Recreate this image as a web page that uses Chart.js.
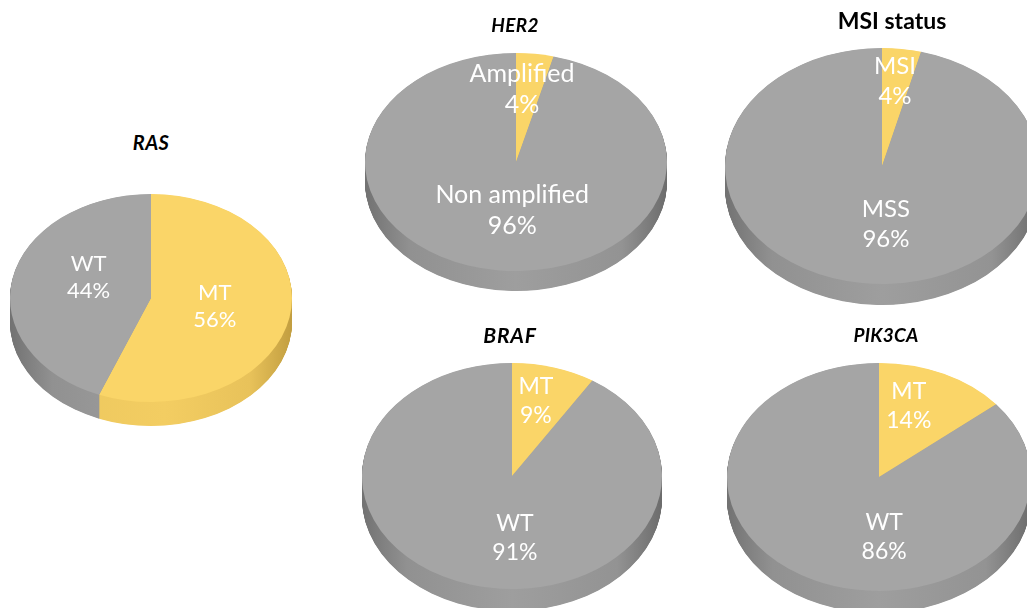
<!DOCTYPE html>
<html>
<head>
<meta charset="utf-8">
<script src="https://cdn.jsdelivr.net/npm/chart.js@4/dist/chart.umd.min.js"></script>
<style>
  html, body { margin:0; padding:0; background:#fff; width:1027px; height:608px; overflow:hidden; position:relative; }
  canvas { position:absolute; }
  .ttl { position:absolute; transform:translate(-50%,-50%); font-family:Lato, "Open Sans", sans-serif; font-weight:bold; color:#000; white-space:nowrap; }
</style>
</head>
<body>
<script>
// ---- data ----
const titles = ['RAS', 'HER2', 'MSI status', 'BRAF', 'PIK3CA'];
const rasLabels = ['MT', 'WT'];
const rasValues = [56, 44];
const her2Labels = ['Amplified', 'Non amplified'];
const her2Values = [4, 96];
const msiLabels = ['MSI', 'MSS'];
const msiValues = [4, 96];
const brafLabels = ['MT', 'WT'];
const brafValues = [9, 91];
const pik3caLabels = ['MT', 'WT'];
const pik3caValues = [14, 86];

const YELLOW = '#FAD568';
const GRAY = '#A5A5A5';

// ---- layout / style (not data) ----
// fx/fy: label placement factors along the slice's mid-angle direction (x and y separately)
const charts = [
  { title: titles[0], labels: rasLabels, values: rasValues, cx:151, cy:298, rx:141, ry:104, depth:24, font:22, fx:[0.46,0.45], fy:[0.43,1.05], italic:true,  tx:151, ty:142, tsize:20, ls:0.5 },
  { title: titles[1], labels: her2Labels, values: her2Values, cx:516, cy:162, rx:151, ry:109, depth:20, font:25, fx:[0.32,0.2], fy:[0.67,0.45], italic:true,  tx:515, ty:24,  tsize:19, ls:0.3 },
  { title: titles[2], labels: msiLabels, values: msiValues, cx:882, cy:166, rx:157, ry:118, depth:21, font:24, fx:[0.66,-0.2], fy:[0.72,0.5], italic:false, tx:892, ty:20,  tsize:23, ls:0 },
  { title: titles[3], labels: brafLabels, values: brafValues, cx:512, cy:476, rx:150, ry:113, depth:22, font:23, fx:[0.57,-0.07], fy:[0.69,0.57], italic:true,  tx:510, ty:334, tsize:21, ls:0.8 },
  { title: titles[4], labels: pik3caLabels, values: pik3caValues, cx:879, cy:477, rx:152, ry:114, depth:22, font:23, fx:[0.46,-0.08], fy:[0.69,0.58], italic:true,  tx:886, ty:334, tsize:19, ls:0.2 }
];

function sideGradient(ctx, cx, r, base) {
  const g = ctx.createLinearGradient(cx - r, 0, cx + r, 0);
  if (base === 'yellow') {
    g.addColorStop(0, '#D2AD4A');
    g.addColorStop(0.25, '#EEC95F');
    g.addColorStop(0.55, '#F3CD62');
    g.addColorStop(0.85, '#E8C25A');
    g.addColorStop(1, '#C29E40');
  } else {
    g.addColorStop(0, '#727272');
    g.addColorStop(0.15, '#919191');
    g.addColorStop(0.5, '#9E9E9E');
    g.addColorStop(0.85, '#939393');
    g.addColorStop(1, '#6C6C6C');
  }
  return g;
}

const pie3d = {
  id: 'pie3d',
  beforeDatasetsDraw(chart, args, opts) {
    const ctx = chart.ctx;
    const meta = chart.getDatasetMeta(0);
    const a0 = meta.data[0];
    const cx = a0.x, cy = a0.y, r = a0.outerRadius;
    const k = opts.ratio, depth = opts.depth;
    ctx.save();
    ctx.translate(cx, cy); ctx.scale(1, k); ctx.translate(-cx, -cy);
    const kinds = chart.data.datasets[0].backgroundColor.map(c => c === YELLOW ? 'yellow' : 'gray');
    for (let i = depth; i > 0; i -= 0.5) {
      const oy = i / k;
      meta.data.forEach((arc, j) => {
        ctx.beginPath();
        ctx.moveTo(cx, cy + oy);
        ctx.arc(cx, cy + oy, r, arc.startAngle, arc.endAngle);
        ctx.closePath();
        ctx.fillStyle = sideGradient(ctx, cx, r, kinds[j]);
        ctx.fill();
      });
    }
  },
  afterDatasetsDraw(chart, args, opts) {
    const ctx = chart.ctx;
    ctx.restore();
    const meta = chart.getDatasetMeta(0);
    const ds = chart.data.datasets[0];
    const k = opts.ratio;
    ctx.save();
    ctx.fillStyle = '#FFFFFF';
    ctx.textAlign = 'center';
    ctx.textBaseline = 'middle';
    ctx.font = opts.font + 'px Lato, "Open Sans", sans-serif';
    meta.data.forEach((arc, j) => {
      const mid = (arc.startAngle + arc.endAngle) / 2;
      const x = arc.x + Math.cos(mid) * arc.outerRadius * opts.fx[j];
      const y = arc.y + Math.sin(mid) * arc.outerRadius * opts.fy[j] * k;
      const lh = opts.font * 1.25;
      ctx.fillText(chart.data.labels[j], x, y - lh / 2);
      ctx.fillText(ds.data[j] + '%', x, y + lh / 2);
    });
    ctx.restore();
  }
};

charts.forEach(c => {
  const cv = document.createElement('canvas');
  const w = 2 * c.rx, h = 2 * c.rx;
  cv.width = w; cv.height = h;
  cv.style.width = w + 'px'; cv.style.height = h + 'px';
  cv.style.left = (c.cx - c.rx) + 'px';
  cv.style.top = (c.cy - c.rx) + 'px';
  document.body.appendChild(cv);

  const t = document.createElement('div');
  t.className = 'ttl';
  t.textContent = c.title;
  t.style.left = c.tx + 'px';
  t.style.top = c.ty + 'px';
  t.style.fontSize = c.tsize + 'px';
  t.style.letterSpacing = c.ls + 'px';
  t.style.fontStyle = c.italic ? 'italic' : 'normal';
  document.body.appendChild(t);

  new Chart(cv, {
    type: 'pie',
    data: {
      labels: c.labels,
      datasets: [{
        data: c.values,
        backgroundColor: [YELLOW, GRAY],
        borderWidth: 0,
        clip: false
      }]
    },
    options: {
      responsive: false,
      animation: false,
      events: [],
      layout: { padding: 0 },
      rotation: 0,
      plugins: {
        legend: { display: false },
        tooltip: { enabled: false },
        title: { display: false },
        pie3d: { ratio: c.ry / c.rx, depth: c.depth, font: c.font, fx: c.fx, fy: c.fy }
      }
    },
    plugins: [pie3d]
  });
});
</script>
</body>
</html>
